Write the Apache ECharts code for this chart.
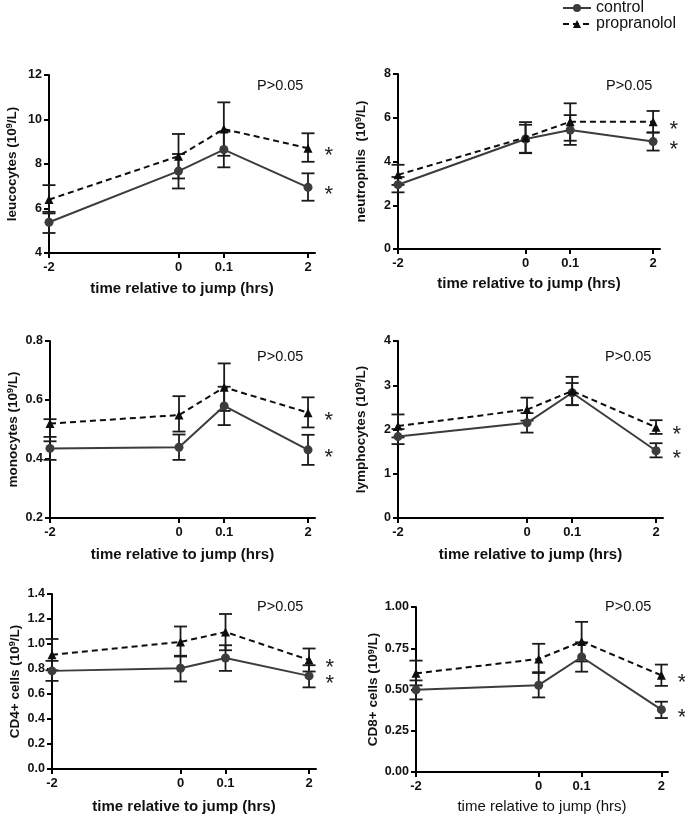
<!DOCTYPE html>
<html><head><meta charset="utf-8">
<script src="https://cdn.jsdelivr.net/npm/echarts@6/dist/echarts.min.js"></script>
<style>html,body{margin:0;padding:0;background:#fff}#c{width:685px;height:815px}</style>
</head><body><div id="c"></div>
<script>
// ---- data ----
const timeLabels = ['-2', '0', '0.1', '2'];
const timeAxisPos = [0, 0.5, 0.675, 1]; // broken time axis: placement of the four time points

const leuControl   = [5.38, 7.68, 8.65, 6.95];
const leuControlLo = [4.90, 6.90, 7.85, 6.35];
const leuControlHi = [5.85, 8.45, 9.45, 7.58];
const leuProp      = [6.40, 8.35, 9.57, 8.71];
const leuPropLo    = [5.78, 7.35, 8.37, 8.10];
const leuPropHi    = [7.05, 9.35, 10.77, 9.38];

const neuControl   = [2.94, 5.03, 5.44, 4.91];
const neuControlLo = [2.59, 4.38, 4.76, 4.50];
const neuControlHi = [3.29, 5.68, 6.12, 5.32];
const neuProp      = [3.39, 5.10, 5.82, 5.82];
const neuPropLo    = [2.93, 4.40, 4.95, 5.33];
const neuPropHi    = [3.85, 5.80, 6.66, 6.31];

const monControl   = [0.436, 0.440, 0.580, 0.431];
const monControlLo = [0.397, 0.397, 0.515, 0.380];
const monControlHi = [0.475, 0.483, 0.645, 0.482];
const monProp      = [0.520, 0.549, 0.643, 0.557];
const monPropLo    = [0.460, 0.493, 0.563, 0.507];
const monPropHi    = [0.535, 0.613, 0.724, 0.609];

const lymControl   = [1.84, 2.15, 2.83, 1.52];
const lymControlLo = [1.67, 1.93, 2.55, 1.37];
const lymControlHi = [2.01, 2.37, 3.05, 1.69];
const lymProp      = [2.08, 2.45, 2.87, 2.05];
const lymPropLo    = [1.82, 2.20, 2.55, 1.90];
const lymPropHi    = [2.34, 2.72, 3.19, 2.21];

const cd4Control   = [0.785, 0.806, 0.888, 0.745];
const cd4ControlLo = [0.705, 0.700, 0.785, 0.653];
const cd4ControlHi = [0.865, 0.906, 0.990, 0.830];
const cd4Prop      = [0.914, 1.017, 1.096, 0.872];
const cd4PropLo    = [0.790, 0.900, 0.950, 0.780];
const cd4PropHi    = [1.040, 1.140, 1.240, 0.964];

const cd8Control   = [0.498, 0.526, 0.697, 0.378];
const cd8ControlLo = [0.440, 0.452, 0.608, 0.327];
const cd8ControlHi = [0.555, 0.600, 0.786, 0.426];
const cd8Prop      = [0.598, 0.685, 0.791, 0.586];
const cd8PropLo    = [0.525, 0.605, 0.670, 0.522];
const cd8PropHi    = [0.675, 0.777, 0.910, 0.651];

const seriesNames = ['control', 'propranolol'];
const xTitle = 'time relative to jump (hrs)';
const pText = 'P>0.05';

// ---- panels ----
const FONT = 'Liberation Sans, Arial, Helvetica, sans-serif';
const panels = [
  {label: 'leucocytes (10', c: leuControl, cLo: leuControlLo, cHi: leuControlHi, p: leuProp, pLo: leuPropLo, pHi: leuPropHi,
   min: 4, max: 12, interval: 2, dec: 0, grid: {left: 49, top: 75, width: 266, height: 178}, pPos: [257, 86], xBold: true, xGap: 28},
  {label: 'neutrophils  (10', c: neuControl, cLo: neuControlLo, cHi: neuControlHi, p: neuProp, pLo: neuPropLo, pHi: neuPropHi,
   min: 0, max: 8, interval: 2, dec: 0, grid: {left: 398, top: 74, width: 262, height: 175}, pPos: [606, 86], xBold: true, xGap: 27},
  {label: 'monocytes (10', c: monControl, cLo: monControlLo, cHi: monControlHi, p: monProp, pLo: monPropLo, pHi: monPropHi,
   min: 0.2, max: 0.8, interval: 0.2, dec: 1, grid: {left: 50, top: 341, width: 265, height: 177}, pPos: [257, 357], xBold: true, xGap: 29},
  {label: 'lymphocytes (10', c: lymControl, cLo: lymControlLo, cHi: lymControlHi, p: lymProp, pLo: lymPropLo, pHi: lymPropHi,
   min: 0, max: 4, interval: 1, dec: 0, grid: {left: 398, top: 341, width: 265, height: 177}, pPos: [605, 357], xBold: true, xGap: 29},
  {label: 'CD4+ cells (10', c: cd4Control, cLo: cd4ControlLo, cHi: cd4ControlHi, p: cd4Prop, pLo: cd4PropLo, pHi: cd4PropHi,
   min: 0, max: 1.4, interval: 0.2, dec: 1, grid: {left: 52, top: 594, width: 264, height: 177}, pPos: [257, 607], xBold: true, xGap: 30},
  {label: 'CD8+ cells (10', c: cd8Control, cLo: cd8ControlLo, cHi: cd8ControlHi, p: cd8Prop, pLo: cd8PropLo, pHi: cd8PropHi,
   min: 0, max: 1.0, interval: 0.25, dec: 2, grid: {left: 416, top: 607, width: 252, height: 167}, pPos: [605, 607], xBold: false, xGap: 27}
];

const CTRL_COLOR = '#3c3c3c';
const PROP_COLOR = '#0d0d0d';
const ERR_COLOR = '#1a1a1a';

const grids = [], xAxes = [], yAxes = [], series = [], graphics = [];

function errRender(params, api) {
  const x = api.value(0), lo = api.value(1), hi = api.value(2);
  const a = api.coord([x, lo]), b = api.coord([x, hi]);
  const w = 6.5;
  const st = {stroke: ERR_COLOR, lineWidth: 1.8};
  return {type: 'group', children: [
    {type: 'line', shape: {x1: a[0], y1: a[1], x2: b[0], y2: b[1]}, style: st},
    {type: 'line', shape: {x1: a[0] - w, y1: a[1], x2: a[0] + w, y2: a[1]}, style: st},
    {type: 'line', shape: {x1: b[0] - w, y1: b[1], x2: b[0] + w, y2: b[1]}, style: st}
  ]};
}

function lineData(vals) {
  return vals.map((v, i) => {
    const d = {value: [timeAxisPos[i], v]};
    if (i === vals.length - 1) {
      d.label = {show: true, position: 'right', distance: 12, offset: [0, 8], formatter: '*',
                 fontSize: 22, fontFamily: FONT, color: '#222'};
    }
    return d;
  });
}
function errData(lo, hi) {
  return lo.map((l, i) => [timeAxisPos[i], l, hi[i]]);
}

panels.forEach((pn, k) => {
  grids.push(Object.assign({containLabel: false}, pn.grid));
  xAxes.push({
    type: 'value', gridIndex: k, min: 0, max: 1.027,
    name: xTitle, nameLocation: 'middle', nameGap: pn.xGap,
    nameTextStyle: {fontFamily: FONT, fontSize: 15, fontWeight: pn.xBold ? 'bold' : 'normal', color: '#111'},
    axisLine: {show: true, onZero: false, lineStyle: {color: '#000', width: 2}},
    axisTick: {show: true, length: 5, lineStyle: {color: '#000', width: 2}, customValues: timeAxisPos},
    axisLabel: {show: true, margin: 8, fontFamily: FONT, fontSize: 13, fontWeight: 'bold', color: '#111',
                customValues: timeAxisPos,
                formatter: v => { const i = timeAxisPos.findIndex(p => Math.abs(p - v) < 1e-6); return i >= 0 ? timeLabels[i] : ''; }},
    splitLine: {show: false}
  });
  yAxes.push({
    type: 'value', gridIndex: k, min: pn.min, max: pn.max, interval: pn.interval,
    name: '{n|' + pn.label + '}{s|9}{n|/L)}', nameLocation: 'middle', nameGap: 30,
    nameTextStyle: {rich: {
      n: {fontFamily: FONT, fontSize: 13.5, fontWeight: 'bold', color: '#111'},
      s: {fontFamily: FONT, fontSize: 9, fontWeight: 'bold', color: '#111', verticalAlign: 'top'}
    }},
    axisLine: {show: true, onZero: false, lineStyle: {color: '#000', width: 2}},
    axisTick: {show: true, length: 5, lineStyle: {color: '#000', width: 2}},
    axisLabel: {margin: 7, fontFamily: FONT, fontSize: 12.5, fontWeight: 'bold', color: '#111',
                formatter: v => v.toFixed(pn.dec)},
    splitLine: {show: false}
  });
  series.push({
    type: 'custom', name: 'err-c-' + k, xAxisIndex: k, yAxisIndex: k, renderItem: errRender,
    encode: {x: 0, y: [1, 2]}, data: errData(pn.cLo, pn.cHi), z: 2, silent: true
  });
  series.push({
    type: 'custom', name: 'err-p-' + k, xAxisIndex: k, yAxisIndex: k, renderItem: errRender,
    encode: {x: 0, y: [1, 2]}, data: errData(pn.pLo, pn.pHi), z: 2, silent: true
  });
  series.push({
    type: 'line', name: seriesNames[0], xAxisIndex: k, yAxisIndex: k, data: lineData(pn.c),
    symbol: 'circle', symbolSize: 9, lineStyle: {color: CTRL_COLOR, width: 2},
    itemStyle: {color: CTRL_COLOR}, z: 3, animation: false
  });
  series.push({
    type: 'line', name: seriesNames[1], xAxisIndex: k, yAxisIndex: k, data: lineData(pn.p),
    symbol: 'triangle', symbolSize: 9, lineStyle: {color: PROP_COLOR, width: 2, type: [6, 4]},
    itemStyle: {color: PROP_COLOR}, z: 4, animation: false
  });
  graphics.push({type: 'text', x: pn.pPos[0], y: pn.pPos[1],
    style: {text: pText, font: '14.5px ' + FONT, fill: '#111', verticalAlign: 'middle'}});
});

const chart = echarts.init(document.getElementById('c'), null, {renderer: 'canvas'});
chart.setOption({
  animation: false,
  backgroundColor: '#fff',
  legend: {
    data: seriesNames, orient: 'vertical', left: 562, top: 0, padding: 0,
    itemWidth: 28, itemHeight: 10, itemGap: 0,
    textStyle: {fontFamily: FONT, fontSize: 16, lineHeight: 14, color: '#111'}
  },
  grid: grids, xAxis: xAxes, yAxis: yAxes, series: series, graphic: graphics
});
</script></body></html>
